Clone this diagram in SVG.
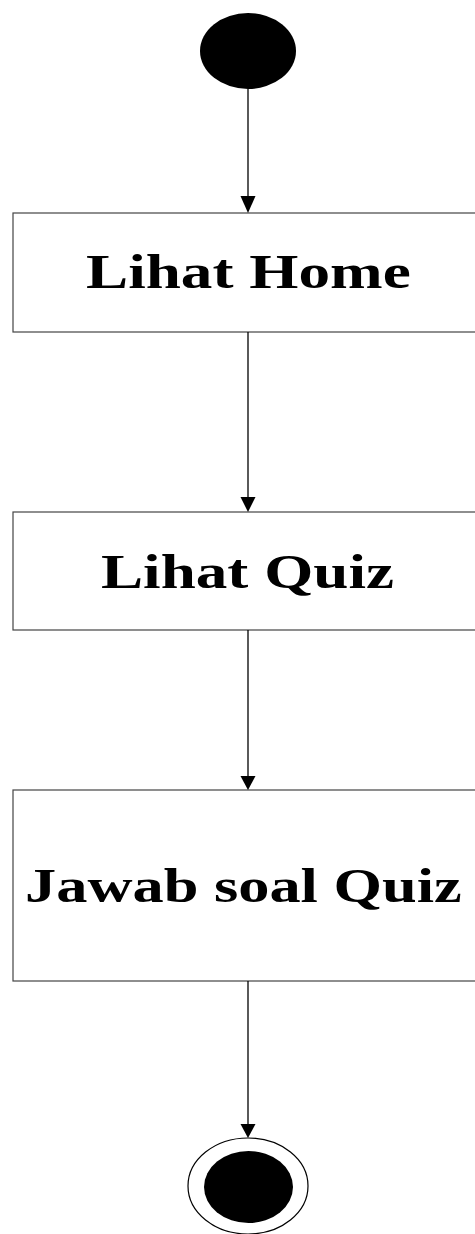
<svg xmlns="http://www.w3.org/2000/svg" width="475" height="1234" viewBox="0 0 475 1234">
  <style>
    .act { fill: #ffffff; stroke: #444444; stroke-width: 1.2; }
    .lbl { font-family: "Liberation Serif", "Times New Roman", serif; font-weight: bold; font-size: 48px; fill: #000000; }
    .flow { stroke: #000000; stroke-width: 1.3; fill: none; }
    .head { fill: #000000; }
  </style>

  <!-- initial state -->
  <g id="start">
    <ellipse cx="248" cy="51" rx="48" ry="38" fill="#000000"/>
  </g>

  <!-- activities (labels are widened horizontally) -->
  <g id="lihat-home">
    <rect class="act" x="13" y="213" width="470" height="119"/>
    <text class="lbl" transform="translate(86 288) scale(1.317 1)">Lihat Home</text>
  </g>

  <g id="lihat-quiz">
    <rect class="act" x="13" y="512" width="470" height="118"/>
    <text class="lbl" transform="translate(101 588) scale(1.316 1)">Lihat Quiz</text>
  </g>

  <g id="jawab-soal-quiz">
    <rect class="act" x="13" y="790" width="470" height="191"/>
    <text class="lbl" transform="translate(25 902) scale(1.30 1)">Jawab soal Quiz</text>
  </g>

  <!-- final state -->
  <g id="end">
    <ellipse cx="248" cy="1186" rx="60" ry="48" fill="#ffffff" stroke="#000000" stroke-width="1.2"/>
    <ellipse cx="248.5" cy="1187" rx="44.5" ry="36" fill="#000000"/>
  </g>

  <!-- control flows -->
  <g id="connectors">
    <line class="flow" x1="248" y1="89" x2="248" y2="198"/>
    <polygon class="head" points="240.5,196 255.5,196 248,213"/>

    <line class="flow" x1="248" y1="332" x2="248" y2="500"/>
    <polygon class="head" points="240.5,497 255.5,497 248,512"/>

    <line class="flow" x1="248" y1="630" x2="248" y2="778"/>
    <polygon class="head" points="240.5,776 255.5,776 248,790"/>

    <line class="flow" x1="248" y1="981" x2="248" y2="1126"/>
    <polygon class="head" points="240.5,1124 255.5,1124 248,1138"/>
  </g>
</svg>
